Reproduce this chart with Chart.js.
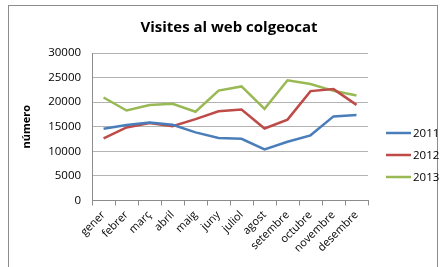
<!DOCTYPE html>
<html>
<head>
<meta charset="utf-8">
<script src="https://cdn.jsdelivr.net/npm/chart.js@4"></script>
<style>
  html, body { margin: 0; padding: 0; background: #fff; }
  #wrap { position: relative; width: 443px; height: 267px; }
  #frame { position: absolute; left: 8px; top: 5px; width: 430px; height: 270px; border: 1px solid #8c8c8c; box-sizing: border-box; }
  canvas { position: absolute; left: 0; top: 0; }
</style>
</head>
<body>
<div id="wrap">
  <div id="frame"></div>
  <canvas id="chart-line" width="443" height="267"></canvas>
</div>
<script>
const months = ['gener', 'febrer', 'març', 'abril', 'maig', 'juny', 'juliol', 'agost', 'setembre', 'octubre', 'novembre', 'desembre'];
const visits2011 = [14600, 15350, 15850, 15400, 13850, 12700, 12550, 10400, 11950, 13250, 17100, 17400];
const visits2012 = [12650, 14850, 15750, 15100, 16550, 18150, 18500, 14650, 16450, 22250, 22650, 19450];
const visits2013 = [20950, 18300, 19400, 19650, 18050, 22350, 23200, 18650, 24450, 23700, 22300, 21350];
const yTicks = [0, 5000, 10000, 15000, 20000, 25000, 30000];

// legend on the right, drawn next to the plot like the excel one
const sideLegend = {
  id: 'sideLegend',
  afterDraw(chart) {
    const c = chart.ctx;
    const x = chart.chartArea.right + 18;
    c.save();
    c.font = "11.5px 'Open Sans', 'Liberation Sans', sans-serif";
    c.textBaseline = 'middle';
    chart.data.datasets.forEach(function (ds, i) {
      const y = 133 + i * 22;
      c.strokeStyle = ds.borderColor;
      c.lineWidth = 2.5;
      c.beginPath();
      c.moveTo(x, y);
      c.lineTo(x + 25, y);
      c.stroke();
      c.fillStyle = '#000';
      c.fillText(ds.label, x + 27, y + 1);
    });
    c.restore();
  }
};

document.addEventListener("DOMContentLoaded", function () {

  const ctx = document.getElementById('chart-line');
  Chart.defaults.font.family = "'Open Sans', 'Liberation Sans', sans-serif";
  Chart.defaults.color = '#404040';

  new Chart(ctx, {
    type: 'line',
    data: {
      labels: months,
      datasets: [
        { label: '2011', data: visits2011, borderColor: '#4a7ebb', backgroundColor: '#4a7ebb' },
        { label: '2012', data: visits2012, borderColor: '#be4b48', backgroundColor: '#be4b48' },
        { label: '2013', data: visits2013, borderColor: '#98b954', backgroundColor: '#98b954' }
      ]
    },
    plugins: [sideLegend],
    options: {
      responsive: false,
      animation: false,
      elements: {
        line: { borderWidth: 2.5, tension: 0 },
        point: { radius: 0 }
      },
      layout: {
        padding: { left: 20, right: 5, top: 19, bottom: 9 }
      },
      plugins: {
        title: {
          display: true,
          text: 'Visites al web colgeocat',
          color: '#000',
          font: { size: 15, weight: 'bold' },
          padding: { top: 0, bottom: 16 }
        },
        legend: { display: false },
        tooltip: { enabled: false }
      },
      scales: {
        x: {
          offset: true,
          grid: {
            offset: true,
            drawOnChartArea: false,
            color: '#8c8c8c',
            tickLength: 5
          },
          border: { color: '#8c8c8c' },
          ticks: {
            autoSkip: false,
            minRotation: 45,
            maxRotation: 45,
            color: '#000',
            font: { size: 11 },
            padding: 3
          }
        },
        y: {
          min: 0,
          max: 30000,
          afterBuildTicks: function (axis) {
            axis.ticks = yTicks.map(v => ({ value: v }));
          },
          grid: { color: '#b3b3b3', drawTicks: false },
          border: { color: '#8c8c8c' },
          ticks: {
            color: '#000',
            font: { size: 11.5 },
            padding: 11,
            callback: v => String(v)
          },
          title: {
            display: true,
            text: 'número',
            color: '#000',
            font: { size: 11, weight: 'bold' },
            padding: { top: 0, bottom: 4 }
          }
        },
        // empty axis that only keeps room for the legend
        spacer: {
          position: 'right',
          grid: { display: false, drawTicks: false },
          border: { display: false },
          ticks: { display: false },
          afterFit: function (axis) { axis.width = 70; }
        }
      }
    }
  });

});
</script>
</body>
</html>
